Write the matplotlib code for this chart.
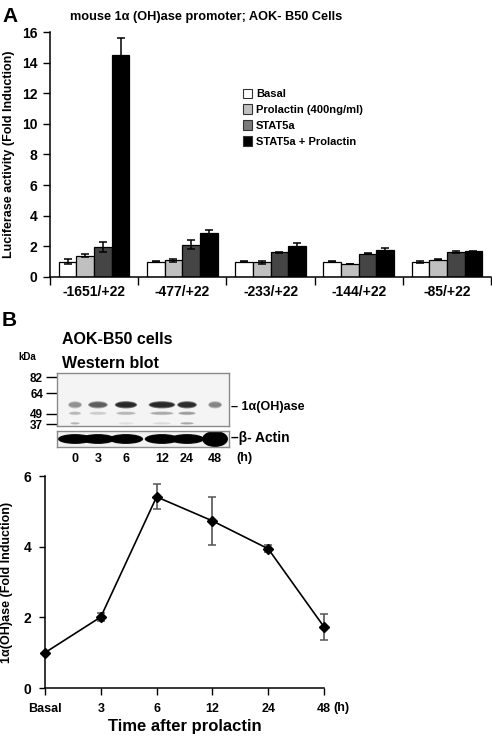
import numpy as np
import matplotlib
matplotlib.use('Agg')
import matplotlib.pyplot as plt
from matplotlib.patches import Patch, Ellipse

plt.rcParams['font.family'] = ['Liberation Sans', 'DejaVu Sans']
plt.rcParams['font.weight'] = 'bold'

# panel A data
constructs = ['-1651/+22', '-477/+22', '-233/+22', '-144/+22', '-85/+22']
series = ['Basal', 'Prolactin (400ng/ml)', 'STAT5a', 'STAT5a + Prolactin']
basal = [1.0, 1.0, 1.0, 1.0, 1.0]
basal_err = [0.15, 0.05, 0.04, 0.04, 0.06]
prl = [1.4, 1.08, 0.95, 0.85, 1.12]
prl_err = [0.1, 0.12, 0.07, 0.03, 0.04]
stat = [1.95, 2.1, 1.62, 1.52, 1.65]
stat_err = [0.35, 0.3, 0.03, 0.04, 0.08]
stat_prl = [14.5, 2.85, 2.05, 1.75, 1.68]
stat_prl_err = [1.1, 0.25, 0.18, 0.15, 0.03]

# panel B line data
times = ['Basal', '3', '6', '12', '24', '48']
fold = [1.0, 2.01, 5.41, 4.73, 3.94, 1.73]
fold_err = [0.0, 0.1, 0.35, 0.67, 0.1, 0.36]

# western blot (drawn schematic)
lanes = ['0', '3', '6', '12', '24', '48']
band_main = [0.35, 0.6, 1.0, 1.0, 0.95, 0.4]
band_low = [0.2, 0.12, 0.2, 0.25, 0.3, 0.0]
band_bottom = [0.2, 0.0, 0.06, 0.08, 0.25, 0.0]
actin = [0.95, 0.95, 0.95, 0.95, 0.95, 1.0]
markers = ['82', '64', '49', '37']

W, H = 492, 737
fig = plt.figure(figsize=(W / 100, H / 100), dpi=100)

def box(x0, y0, x1, y1):
    return [x0 / W, 1 - y1 / H, (x1 - x0) / W, (y1 - y0) / H]

def ftext(x, y, s, **kw):
    fig.text(x / W, 1 - y / H, s, **kw)

# ---------------- panel A ----------------
ax = fig.add_axes(box(50, 32, 491, 277))
colors = ['white', '#c0c0c0', '#454545', 'black']
vals = [basal, prl, stat, stat_prl]
errs = [basal_err, prl_err, stat_err, stat_prl_err]
x = np.arange(len(constructs))
bw = 0.2
for i in range(4):
    ax.bar(x + (i - 1.5) * bw, vals[i], bw, color=colors[i], edgecolor='black', linewidth=0.9,
           yerr=errs[i], capsize=3, error_kw=dict(ecolor='black', elinewidth=1.1, capthick=1.1), zorder=2)
ax.set_xlim(-0.5, 4.5)
ax.set_ylim(0, 16)
ax.set_yticks(range(0, 17, 2))
ax.set_xticks(x)
ax.set_xticklabels(constructs, fontsize=10, fontweight='bold')
ax.tick_params(axis='x', which='major', length=0, pad=6)
ax.set_xticks(np.arange(-0.5, 5, 1), minor=True)
ax.tick_params(axis='x', which='minor', length=6, width=1, direction='out')
ax.tick_params(axis='y', length=5, width=1, labelsize=10, pad=4)
for lab in ax.get_yticklabels():
    lab.set_fontweight('bold')
ax.spines['top'].set_visible(False)
ax.spines['right'].set_visible(False)
ax.spines['left'].set_linewidth(1.1)
ax.spines['bottom'].set_linewidth(1.1)
ax.set_ylabel('Luciferase activity (Fold Induction)', fontsize=9, fontweight='bold')
ax.yaxis.set_label_coords(-0.08, 0.5)
leg_colors = ['white', '#c0c0c0', '#7a7a7a', 'black']
handles = [Patch(facecolor=c, edgecolor='#333333', linewidth=0.8) for c in leg_colors]
ax.legend(handles, series, loc='upper left', bbox_to_anchor=(237 / W, 1 - 83 / H),
          bbox_transform=fig.transFigure, frameon=False, handlelength=0.85,
          handleheight=1.0, handletextpad=0.35, labelspacing=0.45, borderpad=0,
          prop={'weight': 'bold', 'size': 8})
ftext(2, 17, 'A', fontsize=15, fontweight='bold', va='center')
ftext(70, 17, 'mouse 1\u03b1 (OH)ase promoter; AOK- B50 Cells', fontsize=9.2, fontweight='bold', va='center')

# ---------------- panel B blot ----------------
ftext(2, 320, 'B', fontsize=15, fontweight='bold', va='center')
ftext(62, 340, 'AOK-B50 cells', fontsize=11.5, fontweight='bold', va='center')
ftext(62, 364, 'Western blot', fontsize=11.5, fontweight='bold', va='center')
ftext(18, 357, 'kDa', fontsize=7, fontweight='bold', va='center')

lane_x = [0.105, 0.238, 0.401, 0.61, 0.756, 0.919]
lane_w = [0.08, 0.115, 0.13, 0.155, 0.115, 0.08]

def band(a, xc, yc, w, h, level):
    if level <= 0:
        return
    for sc in [1.0, 0.8, 0.6]:
        a.add_patch(Ellipse((xc, yc), w * (0.7 + 0.3 * sc), h * sc, facecolor='black',
                            edgecolor='none', alpha=min(1, level * 0.45)))

axb = fig.add_axes(box(57, 373, 229, 426))
axb.set_xlim(0, 1)
axb.set_ylim(0, 1)
axb.set_facecolor('#f4f4f4')
for i in range(len(lanes)):
    band(axb, lane_x[i], 0.40, lane_w[i], 0.14, band_main[i])
    band(axb, lane_x[i], 0.24, lane_w[i] * 0.9, 0.07, band_low[i])
    band(axb, lane_x[i], 0.05, lane_w[i] * 0.7, 0.05, band_bottom[i])
axb.set_xticks([])
axb.set_yticks([0.92, 0.62, 0.23, 0.03])
axb.set_yticklabels(markers, fontsize=8.5, fontweight='bold')
axb.tick_params(axis='y', length=8, width=1, pad=2, direction='out')
for s in axb.spines.values():
    s.set_color('#8a8a8a')
    s.set_linewidth(1)
ftext(231, 407, '\u2013 1\u03b1(OH)ase', fontsize=9, fontweight='bold', va='center')

axa = fig.add_axes(box(57, 431, 229, 447))
axa.set_xlim(0, 1)
axa.set_ylim(0, 1)
axa.set_facecolor('#f2f2f2')
for i in range(len(lanes)):
    w = 0.16 if i < 5 else 0.12
    h = 0.62 if i < 5 else 1.0
    band(axa, lane_x[i], 0.5, w * 1.25, h, actin[i] * 2.2)
axa.set_xticks(lane_x)
axa.set_xticklabels(lanes, fontsize=9, fontweight='bold')
axa.tick_params(axis='x', length=0, pad=4)
axa.set_yticks([])
for s in axa.spines.values():
    s.set_color('#8a8a8a')
    s.set_linewidth(1)
ftext(231, 438, '\u2013\u03b2- Actin', fontsize=10, fontweight='bold', va='center')
ftext(236, 458, '(h)', fontsize=9, fontweight='bold', va='center')

# ---------------- panel B line ----------------
ax2 = fig.add_axes(box(45, 476, 324, 688))
t = np.arange(len(times))
ax2.errorbar(t, fold, yerr=fold_err, color='black', marker='D', markersize=5, linewidth=1.2,
             ecolor='#555555', elinewidth=1.2, capsize=3, capthick=1.1, clip_on=False, zorder=3)
ax2.set_xlim(0, 5)
ax2.set_ylim(0, 6)
ax2.set_yticks([0, 2, 4, 6])
ax2.set_xticks(t)
ax2.set_xticklabels(times, fontsize=9, fontweight='bold')
ax2.tick_params(axis='x', length=5, width=1, pad=6)
ax2.tick_params(axis='y', length=4, width=1, labelsize=10, pad=6)
for lab in ax2.get_yticklabels():
    lab.set_fontweight('bold')
ax2.spines['top'].set_visible(False)
ax2.spines['right'].set_visible(False)
ax2.spines['left'].set_linewidth(1.1)
ax2.spines['bottom'].set_linewidth(1.1)
ax2.set_ylabel('1\u03b1(OH)ase (Fold Induction)', fontsize=9, fontweight='bold')
ax2.yaxis.set_label_coords(-0.115, 0.5)
ax2.set_xlabel('Time after prolactin', fontsize=12, fontweight='bold', labelpad=3)
ftext(333, 708, '(h)', fontsize=9, fontweight='bold', va='center')

fig.savefig('out.png', dpi=100)
